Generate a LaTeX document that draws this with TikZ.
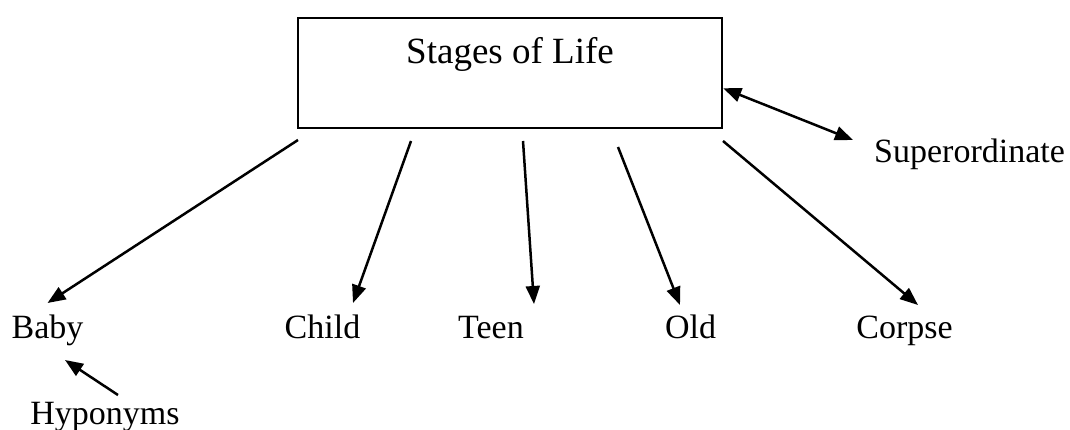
\documentclass[tikz,border=0pt]{standalone}
\usepackage{fontspec}
\setmainfont{Liberation Serif}
\usetikzlibrary{arrows.meta,positioning}

\begin{document}
\begin{tikzpicture}[x=1pt,y=-1pt,
  arr/.style={line width=2.5pt, -{Triangle[length=18pt,width=14pt]}},
  word/.style={inner sep=0pt, anchor=base, font=\fontsize{34}{40}\selectfont}]
\useasboundingbox (0,0) rectangle (1070,430);

\node [draw, line width=2.5pt, inner sep=0pt, anchor=north, minimum width=424pt,
  text height=45pt, text depth=65pt, font=\fontsize{37}{44}\selectfont] (stages) at (510,17) {Stages of Life};

\node [word] (baby) at (47.5,338) {Baby};
\node [word] (child) at (322.5,338) {Child};
\node [word] (teen) at (491,338) {Teen};
\node [word] (old) at (690.5,338) {Old};
\node [word] (corpse) at (904.5,338) {Corpse};

\node [word, anchor=base west] (super) at (874,163) {Superordinate};
\node [word] (hypo) at (105,424) {Hyponyms};

% starting points under the box
\coordinate (sBaby) at (298,140);
\coordinate (sChild) at (411,141);
\coordinate (sTeen) at (523,141);
\coordinate (sOld) at (618,147);
\coordinate (sCorpse) at (723,141);

\draw [arr] (sBaby) -- ([yshift=35pt]baby.base);
\draw [arr] (sChild) -- ([xshift=30.5pt,yshift=35pt]child.base);
\draw [arr] (sTeen) -- ([xshift=43pt,yshift=34pt]teen.base);
\draw [arr] (sOld) -- ([xshift=-10.5pt,yshift=33pt]old.base);
\draw [arr] (sCorpse) -- ([xshift=13.5pt,yshift=33pt]corpse.base);

\draw [arr, {Triangle[length=18pt,width=14pt]}-{Triangle[length=18pt,width=14pt]}]
  ([yshift=-15pt]stages.east) -- ([xshift=-21pt,yshift=23pt]super.base west);

\draw [arr] ([xshift=13pt,yshift=29pt]hypo.base) -- ([xshift=17.5pt,yshift=-22pt]baby.base);
\end{tikzpicture}
\end{document}
